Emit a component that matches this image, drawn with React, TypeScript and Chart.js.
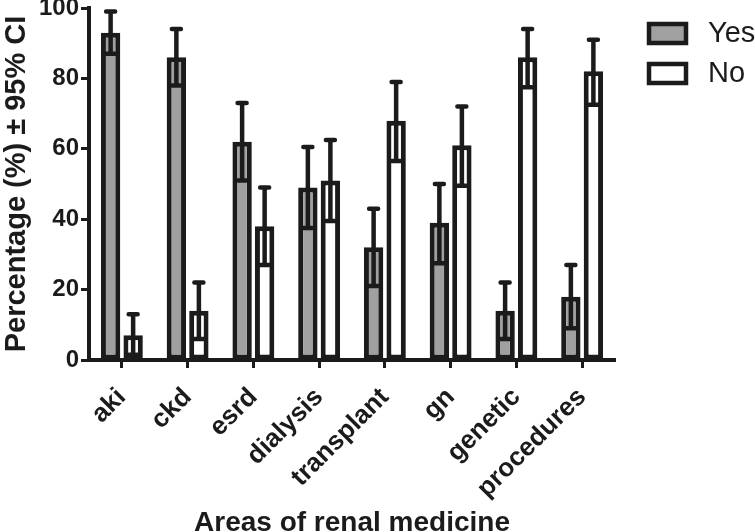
import React, { useEffect, useRef } from "react";
import { Chart, registerables } from "chart.js";

Chart.register(...registerables);

const categories = ["aki", "ckd", "esrd", "dialysis", "transplant", "gn", "genetic", "procedures"];
const yesValues = [93, 86, 62, 49, 32, 39, 14, 18];
const yesUpper = [99, 94, 73, 60.5, 43, 50, 22, 27];
const yesLower = [87, 78, 51, 37.5, 21, 27.5, 6, 9];
const noValues = [7, 14, 38, 51, 68, 61, 86, 82];
const noUpper = [13, 22, 49, 62.5, 79, 72, 94, 91];
const noLower = [1.5, 6, 27, 39.5, 56.5, 49.5, 77.5, 72.5];
const yTicks = [0, 20, 40, 60, 80, 100];

const INK = "#1b1b1b";
const GREY = "#a0a0a0";
const FONT = "'Liberation Sans', Arial, sans-serif";

const errorBarPlugin = {
  id: "errorBars",
  afterDatasetsDraw(chart: any) {
    const ctx = chart.ctx;
    const yScale = chart.scales.y;
    ctx.save();
    chart.data.datasets.forEach((ds: any, i: number) => {
      const meta = chart.getDatasetMeta(i);
      meta.data.forEach((el: any, j: number) => {
        const x = el.x;
        const yHi = yScale.getPixelForValue(ds.errHigh[j]);
        const yLo = yScale.getPixelForValue(ds.errLow[j]);
        ctx.strokeStyle = INK;
        ctx.lineWidth = 4.5;
        ctx.lineCap = "butt";
        ctx.beginPath();
        ctx.moveTo(x, yHi);
        ctx.lineTo(x, yLo);
        ctx.stroke();
        ctx.lineCap = "round";
        ctx.beginPath();
        ctx.moveTo(x - 4.5, yHi);
        ctx.lineTo(x + 4.5, yHi);
        ctx.moveTo(x - 4.5, yLo);
        ctx.lineTo(x + 4.5, yLo);
        ctx.stroke();
      });
    });
    ctx.restore();
  },
};

const legendPlugin = {
  id: "sideLegend",
  afterDraw(chart: any) {
    const ctx = chart.ctx;
    const area = chart.chartArea;
    ctx.save();
    chart.data.datasets.forEach((ds: any, i: number) => {
      const bx = area.right + 34;
      const by = area.top + 16 + i * 40;
      ctx.fillStyle = ds.backgroundColor;
      ctx.strokeStyle = ds.borderColor;
      ctx.lineWidth = 4.5;
      ctx.fillRect(bx, by, 37, 19);
      ctx.strokeRect(bx, by, 37, 19);
      ctx.fillStyle = INK;
      ctx.font = `29px ${FONT}`;
      ctx.textBaseline = "middle";
      ctx.textAlign = "left";
      ctx.fillText(ds.label, area.right + 93, by + 10);
    });
    ctx.restore();
  },
};

export default function App() {
  const canvasRef = useRef<HTMLCanvasElement | null>(null);

  useEffect(() => {
    if (!canvasRef.current) return;
    const chart = new Chart(canvasRef.current, {
      type: "bar",
      data: {
        labels: categories,
        datasets: [
          {
            label: "Yes",
            data: yesValues,
            errHigh: yesUpper,
            errLow: yesLower,
            backgroundColor: GREY,
            borderColor: INK,
            borderWidth: 5,
            borderSkipped: false,
            categoryPercentage: 0.685,
            barPercentage: 0.86,
          } as any,
          {
            label: "No",
            data: noValues,
            errHigh: noUpper,
            errLow: noLower,
            backgroundColor: "#ffffff",
            borderColor: INK,
            borderWidth: 5,
            borderSkipped: false,
            categoryPercentage: 0.685,
            barPercentage: 0.86,
          } as any,
        ],
      },
      options: {
        responsive: false,
        animation: false,
        layout: { padding: { left: 0, right: 140, top: 8, bottom: 0 }, autoPadding: false },
        plugins: {
          legend: { display: false },
          tooltip: { enabled: false },
        },
        scales: {
          x: {
            afterFit: (s: any) => {
              s.height = 172;
              s.paddingLeft = 0;
              s.paddingRight = 0;
            },
            grid: {
              display: true,
              drawOnChartArea: false,
              drawTicks: true,
              tickLength: 8,
              tickWidth: 3,
              tickColor: INK,
              offset: false,
            },
            border: { display: true, width: 4, color: INK },
            ticks: {
              autoSkip: false,
              minRotation: 45,
              maxRotation: 45,
              padding: 14,
              color: INK,
              font: { family: FONT, size: 26, weight: "bold" },
            },
            title: {
              display: true,
              text: "Areas of renal medicine",
              color: INK,
              font: { family: FONT, size: 28, weight: "bold", lineHeight: 1 },
              padding: { top: 0, bottom: -5 },
            },
          },
          y: {
            min: 0,
            max: 100,
            afterFit: (s: any) => {
              s.width = 89;
              s.paddingTop = 0;
              s.paddingBottom = 0;
            },
            afterBuildTicks: (s: any) => {
              s.ticks = yTicks.map((v) => ({ value: v }));
            },
            grid: {
              display: true,
              drawOnChartArea: false,
              drawTicks: true,
              tickLength: 8,
              tickWidth: 3,
              tickColor: INK,
            },
            border: { display: true, width: 4, color: INK },
            ticks: {
              padding: 2,
              color: INK,
              font: { family: FONT, size: 24, weight: "bold" },
            },
            title: {
              display: true,
              text: "Percentage (%) ± 95% CI",
              color: INK,
              font: { family: FONT, size: 29, weight: "bold", lineHeight: 1 },
              padding: { top: 2, bottom: 0 },
            },
          },
        },
      } as any,
      plugins: [errorBarPlugin, legendPlugin],
    });
    return () => chart.destroy();
  }, []);

  return (
    <div style={{ position: "fixed", left: 0, top: 0, width: 755, height: 532, background: "#fff" }}>
      <canvas ref={canvasRef} width={755} height={532} style={{ width: 755, height: 532, display: "block" }} />
    </div>
  );
}
